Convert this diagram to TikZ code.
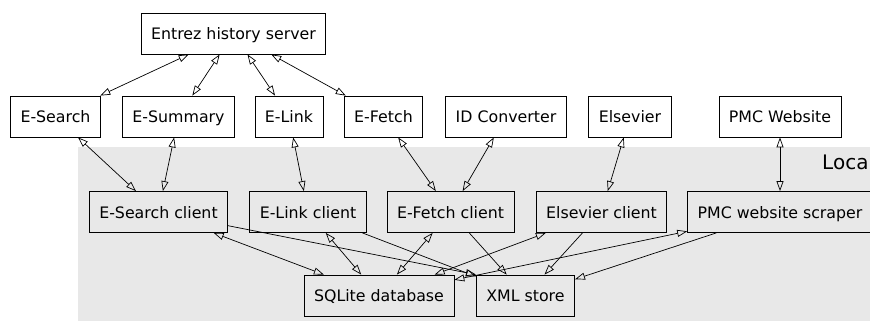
\documentclass[tikz,border=0pt]{standalone}
\usepackage{fontspec}
\setmainfont{DejaVu Sans}
\usetikzlibrary{arrows.meta}
\definecolor{localgrey}{RGB}{232,232,232}

\begin{document}
\begin{tikzpicture}[x=1pt,y=-1pt,
    box/.style={draw,line width=0.8pt,fill=white,minimum height=41pt,inner xsep=10pt,
        text height=12pt,text depth=0pt,font=\fontsize{15.8}{19}\selectfont},
    localbox/.style={box,fill=localgrey},
    link/.style={line width=0.7pt,
        {Triangle[open,length=10pt,width=7pt]}-{Triangle[open,length=10pt,width=7pt]}},
    feed/.style={line width=0.7pt,-{Triangle[open,length=10pt,width=7pt]}}]
    \useasboundingbox (0,0) rectangle (870,322);
    % local cluster
    \fill[localgrey] (78,147) rectangle (890,321);
    \node[anchor=base west,inner sep=0pt,font=\fontsize{20}{24}\selectfont] (loca) at (822,169) {Loca};
    % history server
    \node[box] (hist) at (233.5,33.5) {Entrez history server};
    % remote services
    \node[box] (esearch)  at (55.5,116.5)  {E-Search};
    \node[box] (esummary) at (178.5,116.5) {E-Summary};
    \node[box] (elink)    at (289,116.5)   {E-Link};
    \node[box] (efetch)   at (383.5,116.5) {E-Fetch};
    \node[box] (idconv)   at (506,116.5)   {ID Converter};
    \node[box] (elsevier) at (630,116.5)   {Elsevier};
    \node[box] (pmcweb)   at (780,116.5)   {PMC Website};
    % local clients
    \node[localbox] (esearchc)  at (158.5,212) {E-Search client};
    \node[localbox] (elinkc)    at (308,212)   {E-Link client};
    \node[localbox] (efetchc)   at (450.5,212) {E-Fetch client};
    \node[localbox] (elsevierc) at (601.5,212) {Elsevier client};
    \node[localbox] (pmcscrape) at (780,212)   {PMC website scraper};
    % stores
    \node[localbox] (sqlite) at (379,295.5)   {SQLite database};
    \node[localbox] (xml)    at (525.5,295.5) {XML store};
    % history server links
    \foreach \n in {esearch,esummary,elink,efetch}
        \draw[link] (hist) -- (\n);
    % services to clients
    \draw[link] (esearch)  -- (esearchc);
    \draw[link] (esummary) -- (esearchc);
    \draw[link] (elink)    -- (elinkc);
    \draw[link] (efetch)   -- (efetchc);
    \draw[link] (idconv)   -- (efetchc);
    \draw[link] (elsevier) -- (elsevierc);
    \draw[link] (pmcweb)   -- (pmcscrape);
    % clients to stores
    \foreach \c in {esearchc,elinkc,efetchc,elsevierc,pmcscrape}
        \draw[link] (\c) -- (sqlite);
    \draw[feed] (esearchc) -- (xml.north west);
    \foreach \c in {elinkc,efetchc,elsevierc,pmcscrape}
        \draw[feed] (\c) -- (xml);
\end{tikzpicture}
\end{document}
